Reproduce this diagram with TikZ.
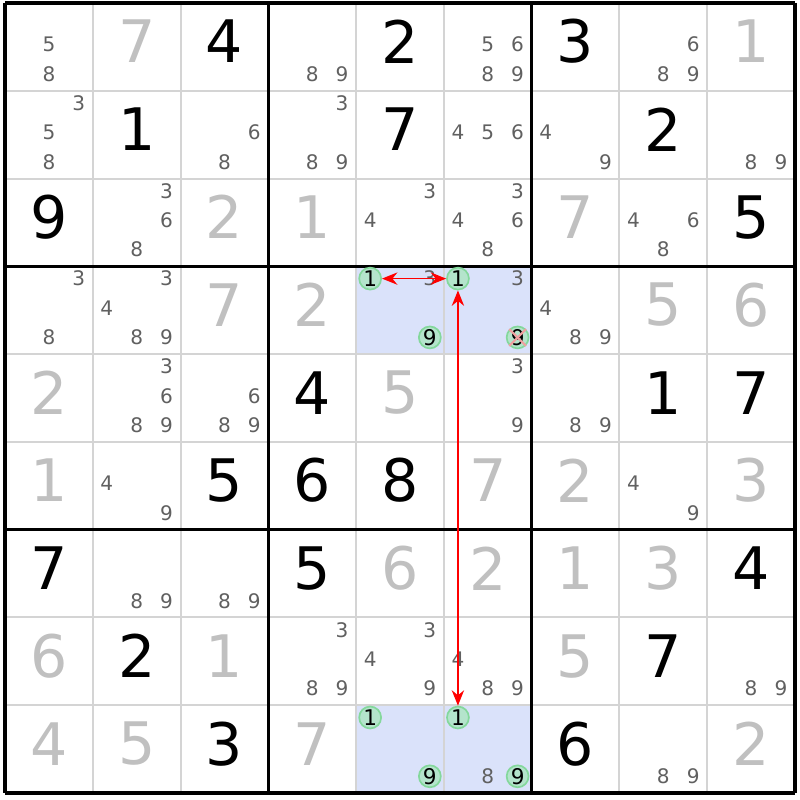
\documentclass[tikz,border=0pt]{standalone}
\usepackage{fontspec}
\setmainfont{DejaVu Sans}
\usetikzlibrary{arrows.meta}

\definecolor{solvedgray}{HTML}{C0C0C0}
\definecolor{pencilgray}{HTML}{606060}
\definecolor{cellblue}{HTML}{DAE2FA}
\definecolor{gridgray}{HTML}{D4D4D4}
\definecolor{ringfill}{HTML}{B4E4CC}
\definecolor{ringline}{HTML}{84D89C}
\definecolor{elimred}{HTML}{F0A0A0}

\begin{document}
\begin{tikzpicture}[x=1cm,y=-1cm,>={Stealth[length=5pt,width=4pt]},
    given/.style={inner sep=0pt,font=\fontsize{19}{19}\selectfont},
    solved/.style={given,text=solvedgray},
    pencil/.style={inner sep=0pt,text=pencilgray,font=\fontsize{6.5}{6.5}\selectfont},
    ring/.style={pencil,text=black,font=\fontsize{7}{7}\selectfont,circle,fill=ringfill,draw=ringline,line width=0.55pt,minimum size=0.25cm}]
  \useasboundingbox (-0.057,-0.034) rectangle (9.057,9.080);

  % highlighted cells
  \foreach \r/\c in {4/5,4/6,9/5,9/6}
    \fill[cellblue] (\c-1,\r-1) rectangle (\c,\r);

  % grid
  \foreach \i in {1,...,8} {
    \draw[gridgray,line width=0.65pt] (\i,0) -- (\i,9);
    \draw[gridgray,line width=0.65pt] (0,\i) -- (9,\i);
  }
  \foreach \i in {0,3,6,9} {
    \draw[line width=1pt] (\i,0) -- (\i,9);
    \draw[line width=1pt] (0,\i) -- (9,\i);
  }

  % given values
  \foreach \r/\c/\v in {1/3/4,1/5/2,1/7/3,2/2/1,2/5/7,2/8/2,3/1/9,3/9/5,5/4/4,5/8/1,5/9/7,
      6/3/5,6/4/6,6/5/8,7/1/7,7/4/5,7/9/4,8/2/2,8/8/7,9/3/3,9/7/6}
    \node[given] (v\r\c) at (\c-0.5,\r-0.56) {\v};

  % solved values
  \foreach \r/\c/\v in {1/2/7,1/9/1,3/3/2,3/4/1,3/7/7,4/3/7,4/4/2,4/8/5,4/9/6,5/1/2,5/5/5,
      6/1/1,6/6/7,6/7/2,6/9/3,7/5/6,7/6/2,7/7/1,7/8/3,8/1/6,8/3/1,8/7/5,9/1/4,9/2/5,9/4/7,9/9/2}
    \node[solved] (v\r\c) at (\c-0.5,\r-0.56) {\v};

  % candidates
  \foreach \r/\c/\ds in {1/1/{5,8},1/4/{8,9},1/6/{5,6,8,9},1/8/{6,8,9},
      2/1/{3,5,8},2/3/{6,8},2/4/{3,8,9},2/6/{4,5,6},2/7/{4,9},2/9/{8,9},
      3/2/{3,6,8},3/5/{3,4},3/6/{3,4,6,8},3/8/{4,6,8},
      4/1/{3,8},4/2/{3,4,8,9},4/5/{3},4/6/{3},4/7/{4,8,9},
      5/2/{3,6,8,9},5/3/{6,8,9},5/6/{3,9},5/7/{8,9},
      6/2/{4,9},6/8/{4,9},7/2/{8,9},7/3/{8,9},
      8/4/{3,8,9},8/5/{3,4,9},8/6/{4,8,9},8/9/{8,9},
      9/6/{8},9/8/{8,9}}
    \foreach \d in \ds {
      \pgfmathsetmacro\cx{\c-0.5+(mod(\d-1,3)-1)*0.34}
      \pgfmathsetmacro\cy{\r-0.525+(div(\d-1,3)-1)*0.335}
      \node[pencil] (p\r\c\d) at (\cx,\cy) {\d};
    }

  % chain candidates
  \foreach \r/\c/\d in {4/5/1,4/5/9,4/6/1,4/6/9,9/5/1,9/5/9,9/6/1,9/6/9} {
    \pgfmathsetmacro\cx{\c-0.5+(mod(\d-1,3)-1)*0.34}
    \pgfmathsetmacro\cy{\r-0.525+(div(\d-1,3)-1)*0.335}
    \node[ring] (h\r\c\d) at (\cx,\cy) {\d};
  }

  % eliminated
  \draw[elimred,line width=0.7pt] (h469.north west) -- (h469.south east);
  \draw[elimred,line width=0.7pt] (h469.north east) -- (h469.south west);

  % links
  \draw[<->,red,line width=0.5pt] (h451) -- (h461);
  \draw[<->,red,line width=0.5pt] (h461) -- (h961);
\end{tikzpicture}
\end{document}
